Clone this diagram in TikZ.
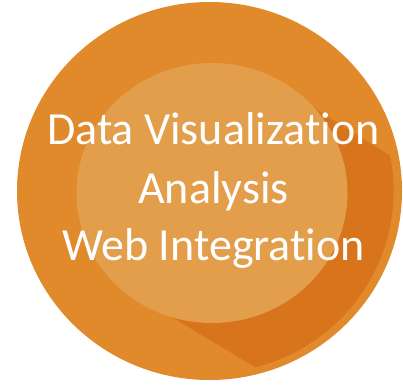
\documentclass[tikz,border=0pt]{standalone}
\usepackage{fontspec}
\setmainfont{Carlito}[Ligatures={NoCommon,NoContextual}]
\definecolor{ringorange}{RGB}{224,138,44}
\definecolor{coreorange}{RGB}{227,158,76}
\definecolor{shadeorange}{RGB}{215,116,28}
\tikzset{
  topicline/.style={anchor=base, text=white, inner sep=0pt,
    font=\fontsize{46}{56}\selectfont}
}
\begin{document}
\begin{tikzpicture}[x=1pt,y=-1pt]
\useasboundingbox (0,0) rectangle (403,385);
% outer disc
\fill [ringorange] (209.5,191) ellipse [x radius=192.5, y radius=189];
% long shadow
\begin{scope}
\clip (209.5,191) ellipse [x radius=184, y radius=182];
\fill [shadeorange] (255,71) -- (560,262) -- (445,481) -- (140,298) -- cycle;
\end{scope}
% inner disc
\fill [coreorange] (212,193) ellipse [x radius=135.5, y radius=130];
\draw (213.5,144) node[topicline] (dataviz) {Data Visualization};
\draw (213.5,203) node[topicline] (analysis) {Analysis};
\draw (213.5,260) node[topicline] (webint) {Web Integration};
\end{tikzpicture}
\end{document}
